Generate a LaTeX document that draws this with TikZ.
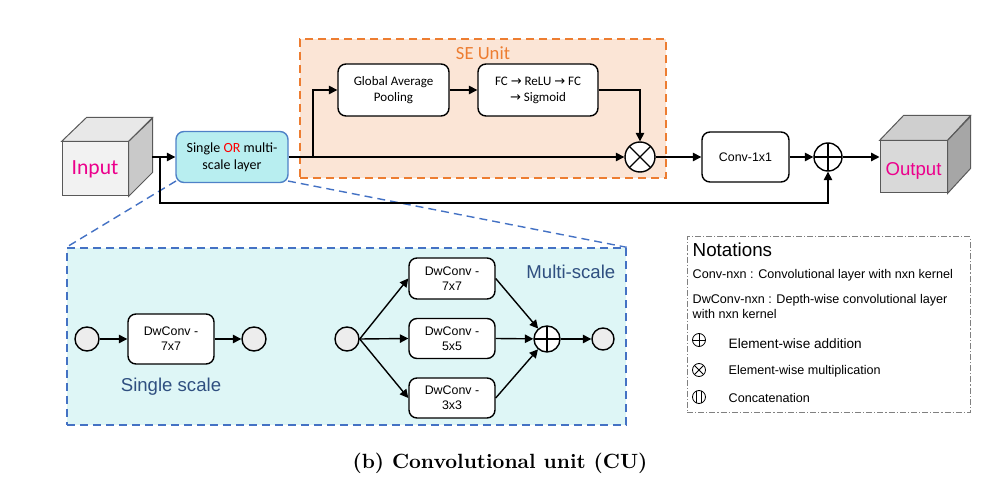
\documentclass[tikz,border=0pt]{standalone}
\usepackage{fontspec}
\newfontfamily\calfont{Carlito}
\newfontfamily\arifont{Liberation Sans}
\newfontfamily\symfont{DejaVu Sans}
\usetikzlibrary{arrows.meta}
\definecolor{seorange}{HTML}{ED7D31}
\definecolor{sefill}{HTML}{FBE5D6}
\definecolor{layfill}{HTML}{B8EEF0}
\definecolor{layblue}{HTML}{4F81C7}
\definecolor{msfill}{HTML}{DEF6F6}
\definecolor{msblue}{HTML}{4472C4}
\definecolor{txtblue}{HTML}{2F4F80}
\definecolor{cubeline}{HTML}{595959}

\begin{document}
\begin{tikzpicture}[x=0.5pt, y=-0.5pt, line width=0.7pt, >={Triangle[length=4.2pt,width=4.2pt]},
	box/.style={draw, rounded corners=4pt, fill=white, align=center, inner sep=0pt},
	dot/.style={circle, draw, fill=black!7, inner sep=0pt, minimum size=12pt},
	plus/.style={circle, draw, fill=white, inner sep=0pt, path picture={\draw (path picture bounding box.north) -- (path picture bounding box.south) (path picture bounding box.west) -- (path picture bounding box.east);}},
	times/.style={circle, draw, fill=white, inner sep=0pt, path picture={\draw (path picture bounding box.north west) -- (path picture bounding box.south east) (path picture bounding box.north east) -- (path picture bounding box.south west);}},
	concat/.style={circle, draw, fill=white, inner sep=0pt, path picture={\draw ([xshift=-1.2pt]path picture bounding box.north) -- ([xshift=-1.2pt]path picture bounding box.south) ([xshift=1.2pt]path picture bounding box.north) -- ([xshift=1.2pt]path picture bounding box.south);}},
	icon/.style={line width=0.4pt, minimum size=6.5pt},
	note/.style={anchor=west, inner sep=0pt, align=left, font=\arifont\fontsize{6.3}{7.5}\selectfont}]
	\useasboundingbox (0,0) rectangle (998,492);

	% frames
	\node[draw=seorange, fill=sefill, dash pattern=on 4pt off 2.5pt, minimum width=183pt, minimum height=69.5pt] (sebox) at (483,108.5) {};
	\node[text=seorange, font=\calfont\fontsize{9.3}{11}\selectfont] (selabel) at (483,53) {SE Unit};
	\node[draw=msblue, fill=msfill, dash pattern=on 4pt off 2.5pt, minimum width=279.5pt, minimum height=88.5pt] (msbox) at (346.5,336.5) {};
	\node[draw=gray, dash pattern=on 3pt off 1pt on 0.6pt off 1pt, line width=0.5pt, minimum width=141.5pt, minimum height=88pt] (notes) at (828.5,325) {};

	% cubes
	\node[draw=cubeline, fill=black!5, line width=0.5pt, minimum width=33pt, minimum height=27pt, inner sep=0pt] (input) at (95,169) {};
	\draw[cubeline, fill=black!9, line width=0.5pt] (input.north west) -- (input.north east) -- ++(24,-24) -- ++(-66,0) -- cycle;
	\draw[cubeline, fill=black!21, line width=0.5pt] (input.north east) -- (input.south east) -- ++(24,-24) -- ++(0,-54) -- cycle;
	\node[text=magenta, font=\calfont\fontsize{10.8}{12}\selectfont] at (input) {Input};
	\node[draw=cubeline, fill=black!15, line width=0.5pt, minimum width=33.5pt, minimum height=26pt, inner sep=0pt] (output) at (913.5,167) {};
	\draw[cubeline, fill=black!19, line width=0.5pt] (output.north west) -- (output.north east) -- ++(23,-25) -- ++(-67,0) -- cycle;
	\draw[cubeline, fill=black!35, line width=0.5pt] (output.north east) -- (output.south east) -- ++(23,-25) -- ++(0,-52) -- cycle;
	\node[text=magenta, font=\arifont\fontsize{9.3}{11}\selectfont] at ([yshift=-2pt]output) {Output};

	% call-out lines
	\draw[msblue, dash pattern=on 4pt off 2.5pt] (176,181) -- (msbox.north west);
	\draw[msblue, dash pattern=on 4pt off 2.5pt] (288,181) -- (msbox.north east);

	% main row
	\node[box, draw=layblue, fill=layfill, minimum width=56pt, minimum height=25.5pt, font=\calfont\fontsize{7}{8.5}\selectfont] (layer) at (232,157) {Single \textcolor{red}{OR} multi-\\scale layer};
	\node[box, minimum width=55.5pt, minimum height=26pt, font=\calfont\fontsize{6.5}{8}\selectfont] (gap) at (393.5,90) {Global Average\\Pooling};
	\node[box, minimum width=60pt, minimum height=26pt, font=\calfont\fontsize{6.5}{8}\selectfont] (fc) at (538,90) {FC {\symfont\fontsize{6.5}{8}\selectfont→} ReLU {\symfont\fontsize{6.5}{8}\selectfont→} FC\\{\symfont\fontsize{6.5}{8}\selectfont→} Sigmoid};
	\node[times, minimum size=15pt] (mul) at (640,157) {};
	\node[box, minimum width=43.5pt, minimum height=25pt, font=\arifont\fontsize{6.2}{7.5}\selectfont] (conv) at (745.5,157) {Conv-1x1};
	\node[plus, minimum size=14pt] (add) at (828,157) {};

	\coordinate (inR) at (152,157);
	\coordinate (br1) at (160,157);
	\coordinate (br2) at (313,157);
	\coordinate (sk) at (160,203);
	\draw[->] (inR) -- (layer);
	\draw[->] (layer) -- (mul);
	\draw[->] (br2) |- (gap);
	\draw[->] (gap) -- (fc);
	\draw[->] (fc) -| (mul);
	\draw[->] (mul) -- (conv);
	\draw[->] (conv) -- (add);
	\draw[->] (add) -- (add -| output.west);
	\draw[->] (br1) -- (sk) -| (add);

	% single scale
	\node[dot] (sin) at (87,339) {};
	\node[box, minimum width=43pt, minimum height=25pt, font=\arifont\fontsize{6.2}{7.5}\selectfont] (sconv) at (171,339) {DwConv -\\7x7};
	\node[dot] (sout) at (254,339) {};
	\node[text=txtblue, font=\arifont\fontsize{9.3}{11}\selectfont] (slabel) at (171,387) {Single scale};
	\draw[->] (sin) -- (sconv);
	\draw[->] (sconv) -- (sout);

	% multi-scale
	\node[dot] (min) at (347,339) {};
	\node[box, minimum width=43pt, minimum height=20.5pt, font=\arifont\fontsize{6.2}{7.5}\selectfont] (m7) at (452,278.5) {DwConv -\\7x7};
	\node[box, minimum width=43pt, minimum height=20pt, font=\arifont\fontsize{6.2}{7.5}\selectfont] (m5) at (452,338.5) {DwConv -\\5x5};
	\node[box, minimum width=43pt, minimum height=20pt, font=\arifont\fontsize{6.2}{7.5}\selectfont] (m3) at (452,398) {DwConv -\\3x3};
	\node[plus, minimum size=13pt] (madd) at (547,339) {};
	\node[dot, minimum size=11pt] (mout) at (603,339) {};
	\node[text=txtblue, anchor=east, inner sep=0pt, font=\arifont\fontsize{9.3}{11}\selectfont] (mlabel) at (616,272) {Multi-scale};
	\foreach \b in {m7,m5,m3} {
		\draw[->] (min.east) -- (\b.west);
		\draw[->] (\b.east) -- (madd);
	}
	\draw[->] (madd) -- (mout);

	% notations
	\node[anchor=west, inner sep=0pt, font=\arifont\fontsize{9.4}{11}\selectfont] (ntitle) at (692,250) {Notations};
	\node[note] (n1) at (692,275) {Conv-nxn : Convolutional layer with nxn kernel};
	\node[note] (n2) at (692,306.5) {DwConv-nxn : Depth-wise convolutional layer\\with nxn kernel};
	\node[plus, icon] (s1) at (699,340) {};
	\node[times, icon] (s2) at (699,370) {};
	\node[concat, icon] (s3) at (699,397) {};
	\node[note, font=\arifont\fontsize{6.8}{8}\selectfont] (t1) at (728,344) {Element-wise addition};
	\node[note] (t2) at (728,371) {Element-wise multiplication};
	\node[note] (t3) at (728,398) {Concatenation};

	\node[font=\bfseries\fontsize{10.3}{12}\selectfont] (title) at (500,463) {(b) Convolutional unit (CU)};
\end{tikzpicture}
\end{document}
